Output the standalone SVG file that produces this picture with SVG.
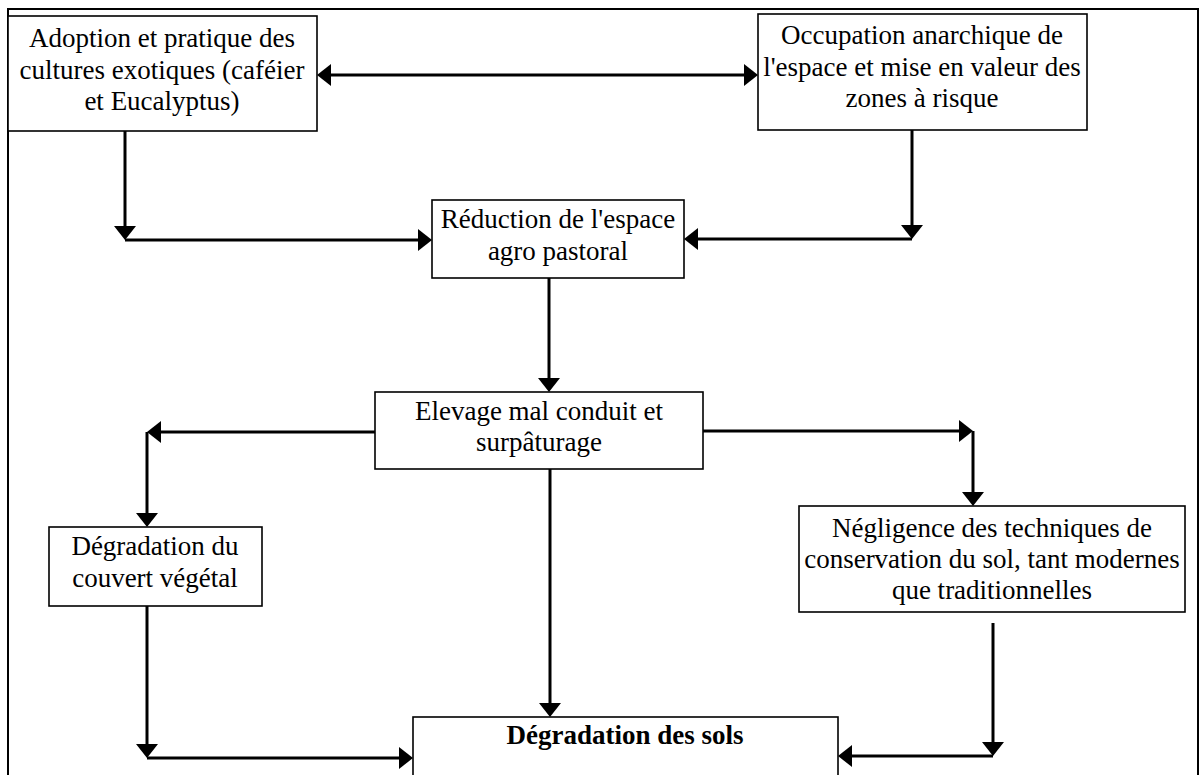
<svg xmlns="http://www.w3.org/2000/svg" width="1202" height="775" viewBox="0 0 1202 775">
<style>
.box{fill:#fff;stroke:#000;stroke-width:1.6}
.t{font-family:"Liberation Serif","Times New Roman",serif;font-size:27px;fill:#000;text-anchor:middle}
.b{font-weight:bold}
.c{fill:none;stroke:#000;stroke-width:3}
.frame{fill:none;stroke:#000;stroke-width:2}
</style>
<defs>
<marker id="ah" viewBox="0 0 14 22" refX="10" refY="11" markerWidth="14" markerHeight="22" markerUnits="userSpaceOnUse" orient="auto-start-reverse">
<path d="M0,0 L14,11 L0,22 z" fill="#000"/>
</marker>
</defs>
<rect width="1202" height="775" fill="#fff"/>
<path class="frame" d="M8,775 V9 H1198 V775"/>
<g id="connectors">
<path class="c" d="M321,75 H754" marker-start="url(#ah)" marker-end="url(#ah)"/>
<path class="c" d="M125,131 V236" marker-end="url(#ah)"/>
<path class="c" d="M125,240 H428" marker-end="url(#ah)"/>
<path class="c" d="M912,130 V235" marker-end="url(#ah)"/>
<path class="c" d="M912,239 H688" marker-end="url(#ah)"/>
<path class="c" d="M549,278 V388" marker-end="url(#ah)"/>
<path class="c" d="M375,432 H151" marker-end="url(#ah)"/>
<path class="c" d="M147,432 V523" marker-end="url(#ah)"/>
<path class="c" d="M147,606 V754" marker-end="url(#ah)"/>
<path class="c" d="M147,758 H409" marker-end="url(#ah)"/>
<path class="c" d="M550,469 V713" marker-end="url(#ah)"/>
<path class="c" d="M703,431 H969" marker-end="url(#ah)"/>
<path class="c" d="M973,431 V502" marker-end="url(#ah)"/>
<path class="c" d="M993,623 V752" marker-end="url(#ah)"/>
<path class="c" d="M993,756 H842" marker-end="url(#ah)"/>
</g>
<g id="adoption">
<rect class="box" x="8" y="16" width="309" height="115"/>
<text class="t" x="162" y="47">Adoption et pratique des</text>
<text class="t" x="162" y="79">cultures exotiques (caféier</text>
<text class="t" x="162" y="110">et Eucalyptus)</text>
</g>
<g id="occupation">
<rect class="box" x="758" y="14" width="329" height="116"/>
<text class="t" x="922" y="44">Occupation anarchique de</text>
<text class="t" x="922" y="76">l'espace et mise en valeur des</text>
<text class="t" x="922" y="107">zones à risque</text>
</g>
<g id="reduction">
<rect class="box" x="432" y="200" width="252" height="78"/>
<text class="t" x="558" y="228">Réduction de l'espace</text>
<text class="t" x="558" y="260">agro pastoral</text>
</g>
<g id="elevage">
<rect class="box" x="375" y="392" width="328" height="77"/>
<text class="t" x="539" y="420">Elevage mal conduit et</text>
<text class="t" x="539" y="451">surpâturage</text>
</g>
<g id="degradation-couvert">
<rect class="box" x="49" y="527" width="213" height="79"/>
<text class="t" x="155" y="555">Dégradation du</text>
<text class="t" x="155" y="587">couvert végétal</text>
</g>
<g id="negligence">
<rect class="box" x="799" y="506" width="386" height="106"/>
<text class="t" x="992" y="537">Négligence des techniques de</text>
<text class="t" x="992" y="568">conservation du sol, tant modernes</text>
<text class="t" x="992" y="599">que traditionnelles</text>
</g>
<g id="degradation-sols">
<rect class="box" x="413" y="717" width="425" height="70"/>
<text class="t b" x="625" y="744">Dégradation des sols</text>
</g>
</svg>
